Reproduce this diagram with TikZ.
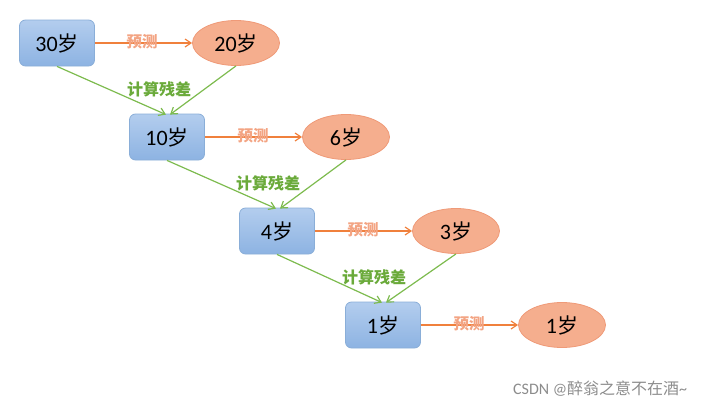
\documentclass[tikz,border=0pt]{standalone}
\usepackage{fontspec}
\usetikzlibrary{arrows.meta,shapes.geometric}
\setmainfont{Carlito}
\newfontfamily\cjk{Noto Sans CJK SC}
\definecolor{boxtop}{HTML}{B3CDEE}
\definecolor{boxbot}{HTML}{8DB3E2}
\definecolor{boxline}{HTML}{8AAED8}
\definecolor{elfill}{HTML}{F5AE8E}
\definecolor{elline}{HTML}{EF9A78}
\definecolor{grn}{HTML}{7DBB4E}
\definecolor{grntxt}{HTML}{6AAA3A}
\definecolor{org}{HTML}{F0803C}
\definecolor{orgtxt}{HTML}{F3A483}
\newcommand{\age}[1]{\fontsize{22}{26}\selectfont #1{\cjk\fontsize{21}{26}\selectfont 岁}}
\begin{document}
\begin{tikzpicture}[x=1pt,y=-1pt,
  agebox/.style={rectangle,rounded corners=6pt,top color=boxtop,bottom color=boxbot,draw=boxline,line width=0.8pt,minimum width=75pt,minimum height=46pt,inner sep=0pt},
  pred/.style={ellipse,fill=elfill,draw=elline,line width=0.8pt,minimum width=87pt,minimum height=45pt,inner sep=0pt},
  garrow/.style={draw=grn,line width=1.2pt,-{Straight Barb[length=6pt,width=8pt]}},
  oarrow/.style={draw=org,line width=1.2pt,-{Straight Barb[length=6pt,width=8pt]}},
  glabel/.style={text=grntxt,font=\cjk\fontsize{16}{18}\selectfont\bfseries,inner sep=0pt},
  olabel/.style={text=orgtxt,font=\cjk\fontsize{15.5}{18}\selectfont\bfseries,inner sep=0pt}]
\useasboundingbox (0,0) rectangle (709,407);
\node[agebox] (b1) at (57,43) {\age{30}};
\node[pred] (e1) at (236,43) {\age{20}};
\node[agebox] (b2) at (167,137) {\age{10}};
\node[pred] (e2) at (346,137) {\age{6}};
\node[agebox] (b3) at (277,231) {\age{4}};
\node[pred] (e3) at (456,231) {\age{3}};
\node[agebox] (b4) at (383,325) {\age{1}};
\node[pred] (e4) at (562,325) {\age{1}};
\draw[oarrow] (b1) -- (e1);
\draw[oarrow] (b2) -- (e2);
\draw[oarrow] (b3) -- (e3);
\draw[oarrow] (b4) -- (e4);
\node[olabel] (p1) at (142,42) {预测};
\node[olabel] (p2) at (253,136) {预测};
\node[olabel] (p3) at (363,230) {预测};
\node[olabel] (p4) at (469,324) {预测};
\draw[garrow] (b1.south) -- ([xshift=-1pt,yshift=-1pt]b2.north);
\draw[garrow] (e1.south) -- ([xshift=3pt,yshift=-1pt]b2.north);
\draw[garrow] (b2.south) -- ([xshift=-1pt,yshift=-1pt]b3.north);
\draw[garrow] (e2.south) -- ([xshift=3pt,yshift=-1pt]b3.north);
\draw[garrow] (b3.south) -- ([xshift=-1pt,yshift=-1pt]b4.north);
\draw[garrow] (e3.south) -- ([xshift=3pt,yshift=-1pt]b4.north);
\node[glabel] (c1) at (159,89) {计算残差};
\node[glabel] (c2) at (268,183) {计算残差};
\node[glabel] (c3) at (374,277) {计算残差};
\node[text=black!45,inner sep=0pt,anchor=west] (wm) at (513,389) {\fontsize{16}{18}\selectfont CSDN @{\cjk 醉翁之意不在酒}\char`\~};
\end{tikzpicture}
\end{document}
